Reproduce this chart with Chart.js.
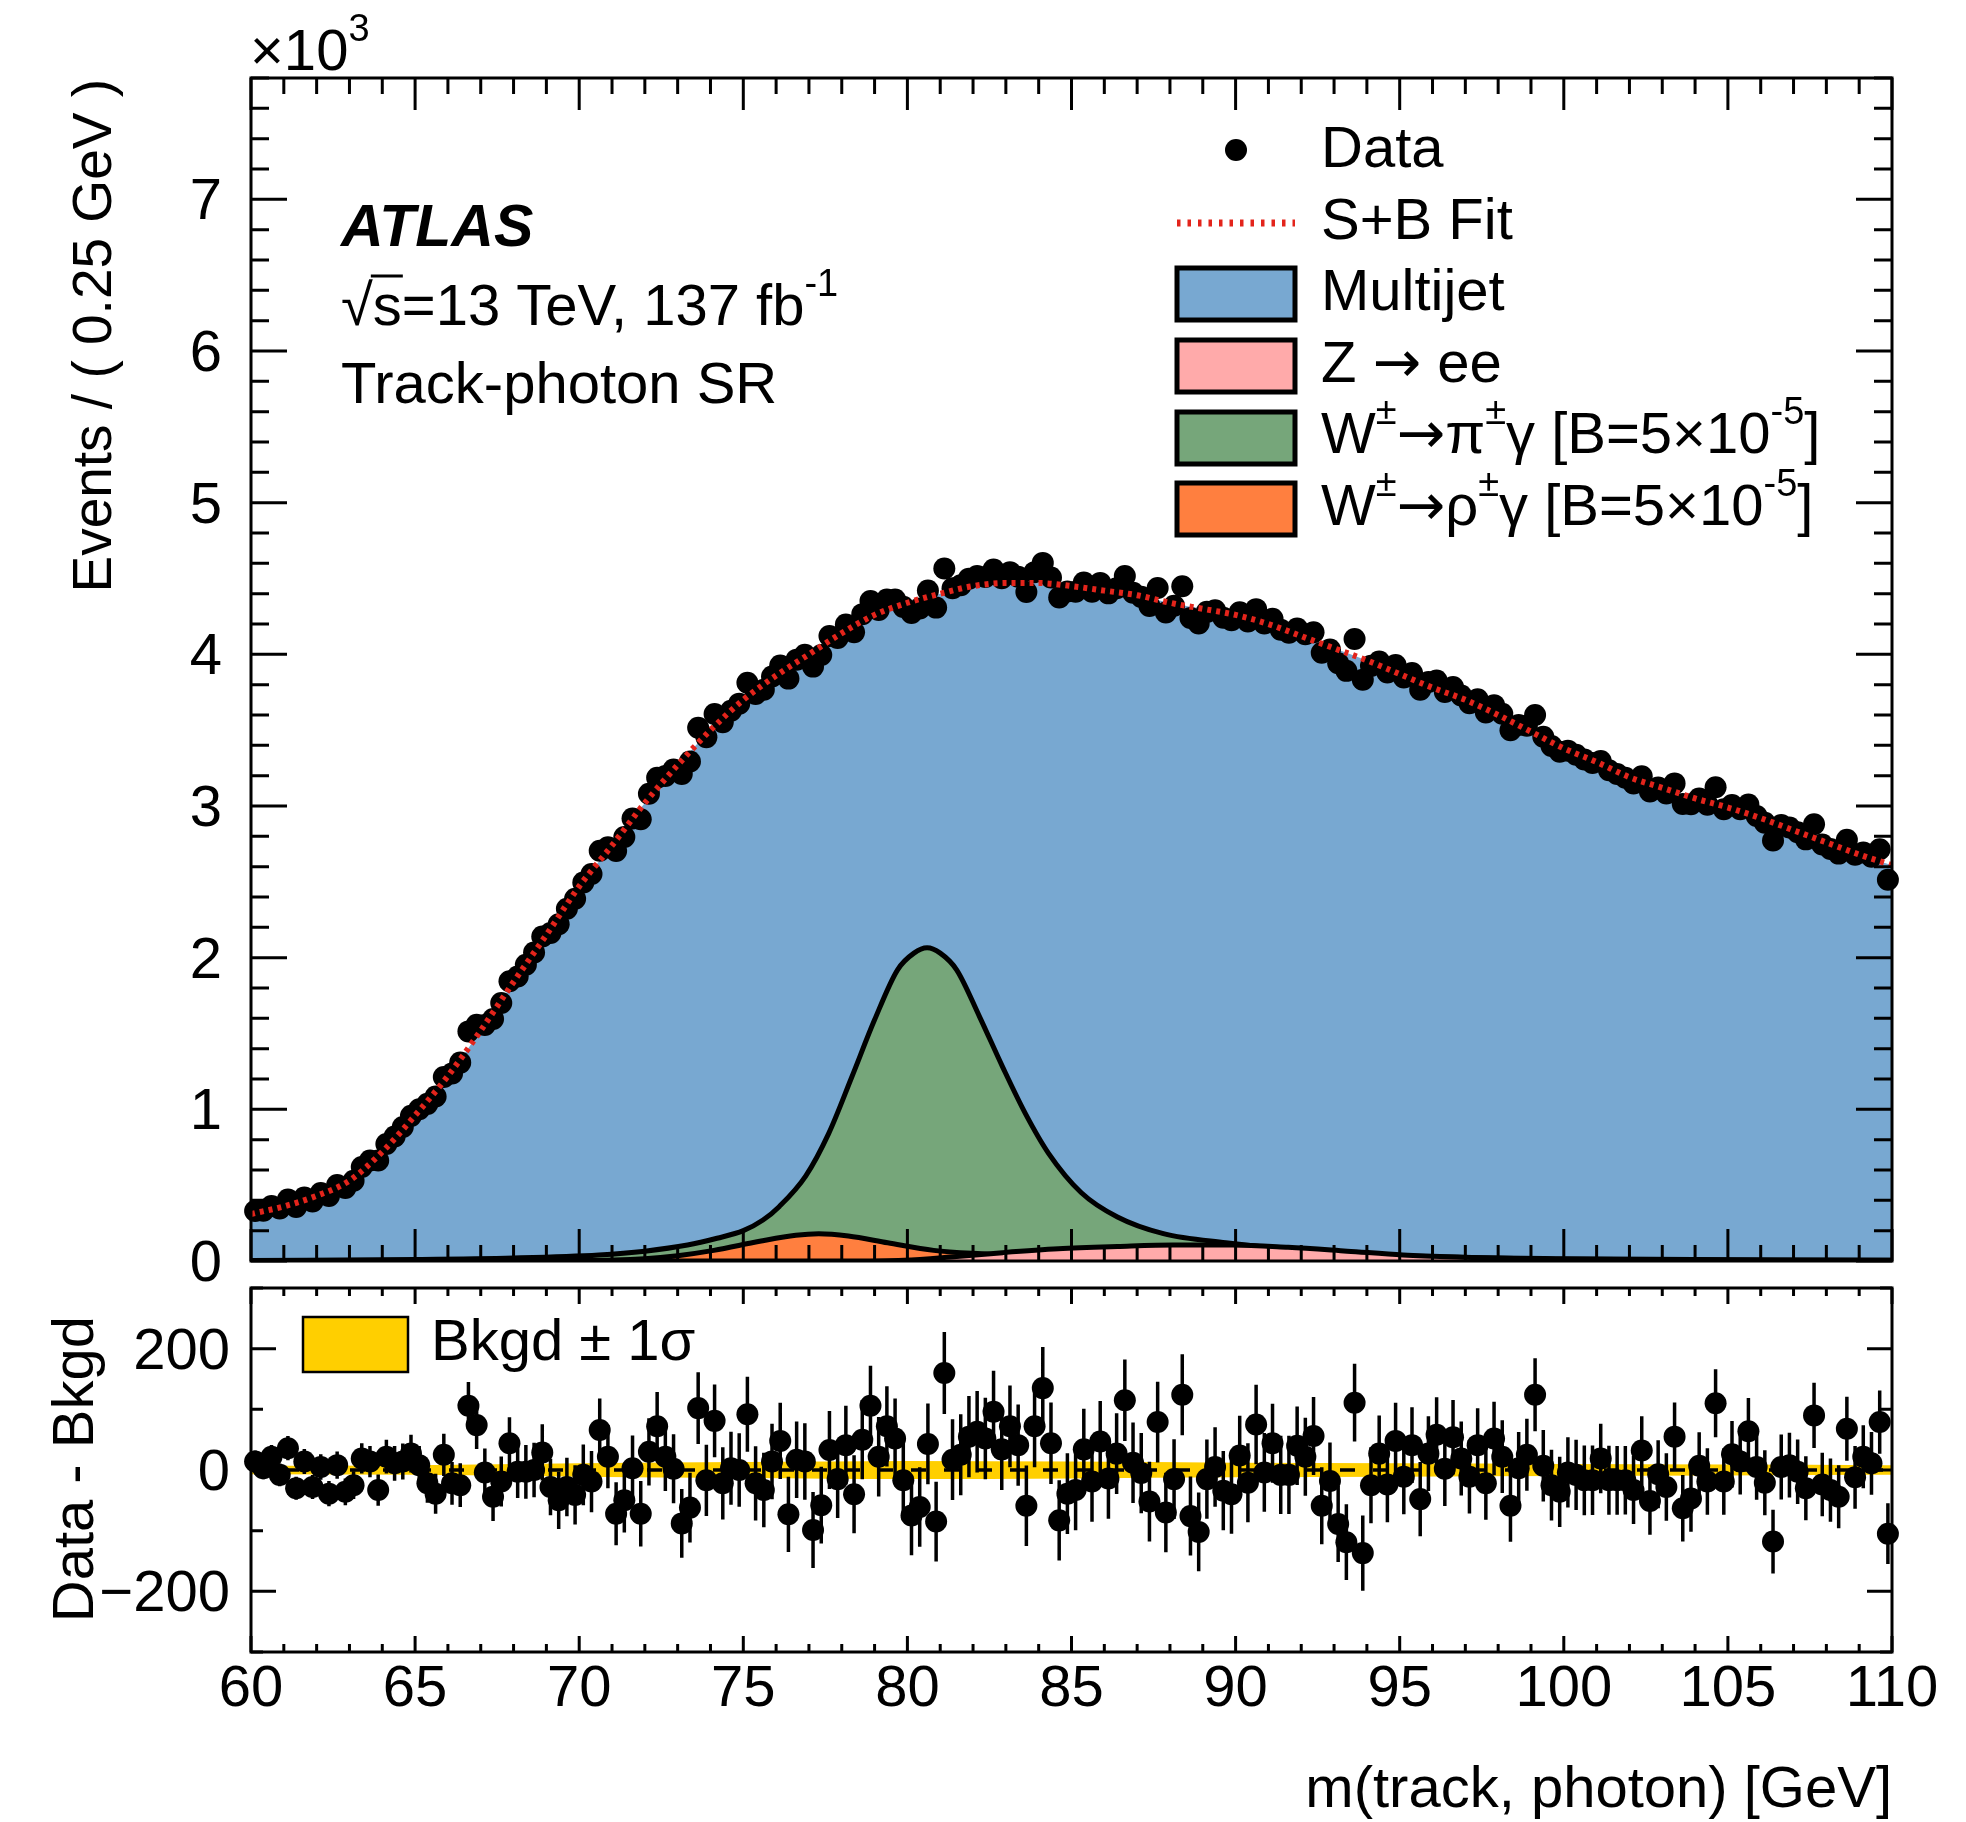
<!DOCTYPE html>
<html>
<head>
<meta charset="utf-8">
<title>m(track, photon) - Track-photon SR</title>
<script src="https://cdn.jsdelivr.net/npm/chart.js@4.4.1/dist/chart.umd.min.js"></script>
<style>
  html, body { margin: 0; padding: 0; background: #ffffff; }
  #wrap { position: relative; width: 1966px; height: 1822px; }
  #wrap canvas { position: absolute; left: 0; top: 0; }
</style>
</head>
<body>
<div id="wrap">
  <canvas id="mainChart" width="1966" height="1822"></canvas>
  <canvas id="ratioChart" width="1966" height="1822"></canvas>
</div>
<script>
// histogram binning (GeV)
const binStart = 60;
const binWidth = 0.25;

// events per 0.25 GeV bin
const dataEvents = [
  330, 332, 363, 346, 405, 356, 418, 393, 448, 429,
  501, 482, 529, 620, 663, 663, 772, 821, 884, 957,
  1001, 1036, 1084, 1213, 1236, 1308, 1514, 1557, 1556, 1596,
  1701, 1844, 1876, 1953, 2034, 2140, 2162, 2220, 2322, 2389,
  2496, 2552, 2705, 2728, 2703, 2795, 2918, 2913, 3081, 3186,
  3198, 3241, 3211, 3294, 3516, 3454, 3606, 3553, 3628, 3675,
  3812, 3738, 3767, 3854, 3926, 3840, 3965, 3997, 3919, 3995,
  4121, 4108, 4196, 4145, 4265, 4351, 4292, 4362, 4362, 4313,
  4273, 4302, 4421, 4308, 4566, 4436, 4456, 4499, 4516, 4510,
  4559, 4502, 4542, 4511, 4411, 4542, 4603, 4507, 4375, 4414,
  4413, 4473, 4412, 4471, 4402, 4436, 4516, 4406, 4379, 4319,
  4438, 4276, 4320, 4449, 4239, 4203, 4280, 4290, 4241, 4225,
  4277, 4217, 4298, 4204, 4234, 4162, 4142, 4170, 4132, 4146,
  4011, 4032, 3941, 3891, 4101, 3833, 3924, 3953, 3880, 3929,
  3848, 3877, 3766, 3818, 3828, 3752, 3784, 3729, 3677, 3704,
  3616, 3665, 3608, 3500, 3534, 3529, 3600, 3456, 3396, 3358,
  3365, 3338, 3307, 3284, 3297, 3236, 3211, 3186, 3148, 3196,
  3095, 3122, 3083, 3149, 3013, 3012, 3050, 3009, 3123, 2979,
  3007, 2978, 3010, 2934, 2889, 2772, 2875, 2858, 2827, 2780,
  2880, 2746, 2717, 2686, 2778, 2678, 2693, 2665, 2715, 2514
];

// data - background, same bins
const dataMinusBkgd = [
  14, 3, 22, -8, 36, -30, 14, -28, 5, -39,
  8, -36, -25, 19, 14, -33, 22, 11, 14, 27,
  8, -22, -39, 25, -22, -25, 106, 74, -4, -44,
  -19, 44, -3, -3, 0, 29, -28, -50, -28, -41,
  -8, -19, 66, 22, -72, -50, 3, -72, 30, 72,
  22, 2, -88, -62, 102, -17, 81, -22, 3, 0,
  92, -22, -33, 14, 48, -73, 17, 14, -99, -58,
  33, -15, 41, -40, 50, 106, 22, 72, 52, -17,
  -75, -61, 43, -85, 160, 17, 25, 55, 63, 52,
  96, 34, 72, 41, -59, 72, 135, 44, -83, -39,
  -33, 34, -19, 47, -14, 27, 115, 12, -5, -52,
  79, -70, -15, 124, -76, -102, -15, 5, -34, -40,
  24, -21, 75, -4, 44, -8, -8, 40, 22, 56,
  -59, -18, -89, -119, 111, -137, -25, 27, -24, 48,
  -11, 41, -48, 27, 58, 2, 54, 19, -11, 41,
  -22, 52, 22, -59, 3, 25, 124, 7, -25, -36,
  -4, -8, -17, -17, 19, -17, -17, -17, -33, 32,
  -51, -7, -28, 55, -63, -47, 7, -19, 110, -19,
  26, 14, 64, 5, -21, -118, 5, 8, -3, -30,
  90, -24, -33, -44, 68, -12, 22, 11, 79, -105
];

// S+B fit / multijet top, x10^3 events
const fitMass = [60, 61, 62, 63, 64, 65, 66, 67, 68, 69, 70, 71, 72, 73, 74, 75, 76, 77, 78, 79,
  80, 81, 82, 83, 84, 85, 86, 87, 88, 89, 90, 91, 92, 93, 94, 95, 96, 97, 98, 99,
  100, 101, 102, 103, 104, 105, 106, 107, 108, 109, 110];
const fitYield = [0.31, 0.36, 0.43, 0.53, 0.72, 0.96, 1.22, 1.52, 1.84, 2.15, 2.47, 2.74, 3.02, 3.27, 3.50, 3.70, 3.86, 4.00, 4.14, 4.26,
  4.34, 4.40, 4.45, 4.47, 4.47, 4.45, 4.42, 4.39, 4.34, 4.30, 4.26, 4.20, 4.12, 4.04, 3.96, 3.87, 3.78, 3.70, 3.60, 3.49,
  3.38, 3.29, 3.19, 3.12, 3.05, 2.99, 2.92, 2.84, 2.76, 2.68, 2.61];

// W -> pi gamma signal, x10^3
const piMass = [60, 65, 68, 70.6, 72, 73.3, 74.2, 75.0, 75.6, 76.1, 76.9, 77.6, 78.3, 79.0, 79.7, 80.2, 80.6,
  81.0, 81.5, 82.2, 82.9, 83.6, 84.3, 85.3, 86.4, 87.8, 89.7, 92, 95, 100, 110];
const piYield = [0.003, 0.01, 0.02, 0.04, 0.065, 0.105, 0.15, 0.20, 0.27, 0.36, 0.56, 0.84, 1.21, 1.59, 1.92, 2.03, 2.065,
  2.03, 1.92, 1.61, 1.28, 0.97, 0.71, 0.45, 0.29, 0.18, 0.12, 0.07, 0.035, 0.015, 0.005];

// W -> rho gamma signal, x10^3
const rhoMass = [60, 70, 72.0, 73.0, 74.1, 75.5, 76.6, 77.3, 78.2, 79.4, 80.8, 82.5, 84, 86, 90, 110];
const rhoYield = [0, 0.003, 0.015, 0.035, 0.07, 0.13, 0.17, 0.18, 0.165, 0.12, 0.07, 0.045, 0.025, 0.012, 0.004, 0];

// Z -> ee, x10^3
const zMass = [60, 78, 79.9, 81.5, 82.9, 84.6, 86.4, 88.1, 89.9, 91.6, 93.4, 95.1, 96.9, 98.5, 100, 105, 110];
const zYield = [0, 0, 0.005, 0.03, 0.055, 0.08, 0.095, 0.105, 0.105, 0.09, 0.065, 0.04, 0.025, 0.016, 0.011, 0.007, 0.005];

// background uncertainty (half width of the yellow band)
const bandMass = [60, 65, 70, 75, 80, 85, 90, 95, 100, 105, 110];
const bandHalf = [7, 8, 11, 13, 15, 14, 12, 11, 10, 9, 8];

// tick labels
const xTicks = [60, 65, 70, 75, 80, 85, 90, 95, 100, 105, 110];
const mainYTicks = [0, 1, 2, 3, 4, 5, 6, 7];
const ratioYTicks = [-200, 0, 200];

const FONT = '"Liberation Sans", Arial, Helvetica, sans-serif';
const ARROW_FONT = '"DejaVu Sans", sans-serif';
const font = (size, style) => (style ? style + ' ' : '') + size + 'px ' + FONT;
const TXT = 58;

const binCenters = dataEvents.map((_, i) => binStart + binWidth * (i + 0.5));
const toPoints = (xs, ys) => xs.map((x, i) => ({ x: x, y: ys[i] }));

// text with superscripts: parts = [[text, isSup, useArrowFont], ...]
function richText(ctx, x, y, parts, size) {
  ctx.textAlign = 'left';
  ctx.textBaseline = 'alphabetic';
  let cx = x;
  parts.forEach(([t, sup, arrow]) => {
    const sz = sup ? Math.round(size * 0.66) : size;
    ctx.font = arrow ? sz + 'px ' + ARROW_FONT : font(sz);
    ctx.fillText(t, cx, sup ? y - size * 0.5 : y);
    cx += ctx.measureText(t).width;
  });
  return cx;
}

function drawFrameAndTicks(chart, s) {
  const { ctx, chartArea: a } = chart;
  const xs = chart.scales.x, ys = chart.scales.y;
  ctx.save();
  ctx.strokeStyle = '#000';
  ctx.lineWidth = 3;
  ctx.beginPath();
  for (let m = 60; m <= 110; m++) {
    const px = xs.getPixelForValue(m);
    const len = m % 5 === 0 ? s.xMajor : s.xMinor;
    ctx.moveTo(px, a.bottom); ctx.lineTo(px, a.bottom - len);
    ctx.moveTo(px, a.top); ctx.lineTo(px, a.top + len);
  }
  for (let k = 0; k <= s.nMinor; k++) {
    const v = s.yFrom + k * s.yMinorStep;
    const py = ys.getPixelForValue(v);
    const major = k % s.perMajor === s.majorOffset;
    const len = major ? s.yMajor : s.yMinor;
    ctx.moveTo(a.left, py); ctx.lineTo(a.left + len, py);
    ctx.moveTo(a.right, py); ctx.lineTo(a.right - len, py);
  }
  ctx.stroke();
  ctx.strokeRect(a.left, a.top, a.right - a.left, a.bottom - a.top);
  ctx.restore();
}

function legendBox(ctx, x, y, w, h, color, lw) {
  ctx.fillStyle = color;
  ctx.fillRect(x, y, w, h);
  ctx.lineWidth = lw;
  ctx.strokeStyle = '#000';
  ctx.strokeRect(x, y, w, h);
}

const mainDecor = {
  id: 'mainDecor',
  afterDraw(chart) {
    const { ctx } = chart;
    const ys = chart.scales.y;
    drawFrameAndTicks(chart, { xMajor: 32, xMinor: 16, yMajor: 36, yMinor: 18,
      yFrom: 0, yMinorStep: 0.2, nMinor: 39, perMajor: 5, majorOffset: 0 });

    ctx.save();
    ctx.fillStyle = '#000';
    // y tick labels
    ctx.font = font(TXT);
    ctx.textAlign = 'right';
    mainYTicks.forEach(v => ctx.fillText(String(v), 222, ys.getPixelForValue(v) + 20));

    // exponent
    richText(ctx, 250, 70, [['\u00D710', false], ['3', true]], TXT);

    // y title
    ctx.save();
    ctx.translate(111, 79);
    ctx.rotate(-Math.PI / 2);
    ctx.font = font(55);
    ctx.textAlign = 'right';
    ctx.fillText('Events / ( 0.25 GeV )', 0, 0);
    ctx.restore();

    // ATLAS label
    ctx.font = font(59, 'italic bold');
    ctx.textAlign = 'left';
    ctx.fillText('ATLAS', 341, 246);

    ctx.font = font(TXT);
    let cx = 341;
    ctx.fillText('\u221A', cx, 325);
    cx += ctx.measureText('\u221A').width;
    const sW = ctx.measureText('s').width;
    ctx.fillText('s', cx, 325);
    ctx.lineWidth = 3;
    ctx.strokeStyle = '#000';
    ctx.beginPath();
    ctx.moveTo(cx - 2, 276);
    ctx.lineTo(cx + sW + 1, 276);
    ctx.stroke();
    richText(ctx, cx + sW, 325, [['=13 TeV, 137 fb', false], ['-1', true]], TXT);
    ctx.font = font(TXT);
    ctx.fillText('Track-photon SR', 341, 403);

    // legend
    const lx = 1177, lw = 118, tx = 1321;
    ctx.beginPath();
    ctx.arc(1236, 150, 11, 0, Math.PI * 2);
    ctx.fill();
    ctx.save();
    ctx.strokeStyle = '#e3241b';
    ctx.lineWidth = 7;
    ctx.setLineDash([3.5, 7]);
    ctx.beginPath();
    ctx.moveTo(lx, 223); ctx.lineTo(lx + lw, 223);
    ctx.stroke();
    ctx.restore();
    legendBox(ctx, lx, 268, lw, 52, '#78a8d1', 5);
    legendBox(ctx, lx, 340, lw, 52, '#ffaaaa', 5);
    legendBox(ctx, lx, 412, lw, 52, '#76a67a', 5);
    legendBox(ctx, lx, 483, lw, 52, '#ff7f3f', 5);
    ctx.fillStyle = '#000';
    ctx.font = font(TXT);
    ctx.fillText('Data', tx, 167);
    ctx.fillText('S+B Fit', tx, 239);
    ctx.fillText('Multijet', tx, 310);
    richText(ctx, tx, 382, [['Z ', false], ['\u2192', false, true], [' ee', false]], TXT);
    richText(ctx, tx, 453, [['W', false], ['\u00B1', true], ['\u2192', false, true], ['\u03C0', false], ['\u00B1', true],
      ['\u03B3 [B=5\u00D710', false], ['-5', true], [']', false]], TXT);
    richText(ctx, tx, 525, [['W', false], ['\u00B1', true], ['\u2192', false, true], ['\u03C1', false], ['\u00B1', true],
      ['\u03B3 [B=5\u00D710', false], ['-5', true], [']', false]], TXT);
    ctx.restore();
  }
};

const ratioDecor = {
  id: 'ratioDecor',
  afterDatasetsDraw(chart) {
    const { ctx } = chart;
    const xs = chart.scales.x, ys = chart.scales.y;
    ctx.save();
    ctx.strokeStyle = '#000';
    ctx.lineWidth = 3.5;
    ctx.beginPath();
    binCenters.forEach((m, i) => {
      const err = Math.sqrt(dataEvents[i]);
      const px = xs.getPixelForValue(m);
      ctx.moveTo(px, ys.getPixelForValue(dataMinusBkgd[i] - err));
      ctx.lineTo(px, ys.getPixelForValue(dataMinusBkgd[i] + err));
    });
    ctx.stroke();
    ctx.restore();
  },
  afterDraw(chart) {
    const { ctx, chartArea: a } = chart;
    const xs = chart.scales.x, ys = chart.scales.y;
    drawFrameAndTicks(chart, { xMajor: 16, xMinor: 8, yMajor: 25, yMinor: 12,
      yFrom: -300, yMinorStep: 100, nMinor: 6, perMajor: 2, majorOffset: 1 });

    ctx.save();
    ctx.fillStyle = '#000';
    ctx.font = font(TXT);
    ctx.textAlign = 'center';
    xTicks.forEach(v => ctx.fillText(String(v), xs.getPixelForValue(v), 1706));
    ctx.textAlign = 'right';
    ratioYTicks.forEach(v => {
      const t = v < 0 ? '\u2212' + Math.abs(v) : String(v);
      ctx.fillText(t, 230, ys.getPixelForValue(v) + 20);
    });
    ctx.fillText('m(track, photon) [GeV]', a.right, 1807);

    ctx.save();
    ctx.translate(93, 1316);
    ctx.rotate(-Math.PI / 2);
    ctx.textAlign = 'right';
    ctx.fillText('Data - Bkgd', 0, 0);
    ctx.restore();

    legendBox(ctx, 303, 1317, 105, 55, '#ffcf00', 2.5);
    ctx.fillStyle = '#000';
    ctx.textAlign = 'left';
    ctx.fillText('Bkgd \u00B1 1\u03C3', 431, 1360);
    ctx.restore();
  }
};

const commonOptions = (padding, yMin, yMax) => ({
  responsive: false,
  maintainAspectRatio: false,
  devicePixelRatio: 1,
  animation: false,
  events: [],
  layout: { padding: padding },
  scales: {
    x: { type: 'linear', min: 60, max: 110, display: false },
    y: { type: 'linear', min: yMin, max: yMax, display: false }
  },
  plugins: { legend: { display: false }, tooltip: { enabled: false } }
});

new Chart(document.getElementById('mainChart'), {
  type: 'line',
  data: {
    datasets: [
      { label: 'S+B Fit', data: toPoints(fitMass, fitYield), borderColor: '#e3241b', borderWidth: 6,
        borderDash: [4, 5], pointRadius: 0, fill: false, cubicInterpolationMode: 'monotone', order: 0 },
      { label: 'Data', data: binCenters.map((m, i) => ({ x: m, y: dataEvents[i] / 1000 })), showLine: false,
        pointRadius: 11, pointBackgroundColor: '#000', pointBorderWidth: 0, clip: false, order: 1 },
      { label: 'Z \u2192 ee', data: toPoints(zMass, zYield), backgroundColor: '#ffaaaa', borderColor: '#000',
        borderWidth: 5, fill: 'origin', pointRadius: 0, cubicInterpolationMode: 'monotone', order: 2 },
      { label: 'W\u2192\u03C1\u03B3', data: toPoints(rhoMass, rhoYield), backgroundColor: '#ff7f3f', borderColor: '#000',
        borderWidth: 5, fill: 'origin', pointRadius: 0, cubicInterpolationMode: 'monotone', order: 3 },
      { label: 'W\u2192\u03C0\u03B3', data: toPoints(piMass, piYield), backgroundColor: '#76a67a', borderColor: '#000',
        borderWidth: 5, fill: 'origin', pointRadius: 0, cubicInterpolationMode: 'monotone', order: 4 },
      { label: 'Multijet', data: toPoints(fitMass, fitYield), backgroundColor: '#78a8d1', borderWidth: 0,
        fill: 'origin', pointRadius: 0, cubicInterpolationMode: 'monotone', order: 5 }
    ]
  },
  options: commonOptions({ left: 251, right: 74, top: 78, bottom: 561 }, 0, 7.8),
  plugins: [mainDecor]
});

new Chart(document.getElementById('ratioChart'), {
  type: 'line',
  data: {
    datasets: [
      { label: 'Data - Bkgd', data: toPoints(binCenters, dataMinusBkgd), showLine: false,
        pointRadius: 11, pointBackgroundColor: '#000', pointBorderWidth: 0, clip: false, order: 0 },
      { label: 'Bkgd', data: [{ x: 60, y: 0 }, { x: 110, y: 0 }], borderColor: '#000', borderWidth: 3.5,
        borderDash: [15, 18], pointRadius: 0, fill: false, order: 1 },
      { label: 'Bkgd \u00B1 1\u03C3', data: toPoints(bandMass, bandHalf), backgroundColor: '#ffcf00',
        borderWidth: 0, pointRadius: 0, fill: '+1', cubicInterpolationMode: 'monotone', order: 2 },
      { label: 'band low', data: toPoints(bandMass, bandHalf.map(v => -v)), borderWidth: 0,
        pointRadius: 0, fill: false, cubicInterpolationMode: 'monotone', order: 3 }
    ]
  },
  options: commonOptions({ left: 251, right: 74, top: 1288, bottom: 170 }, -300, 300),
  plugins: [ratioDecor]
});
</script>
</body>
</html>
